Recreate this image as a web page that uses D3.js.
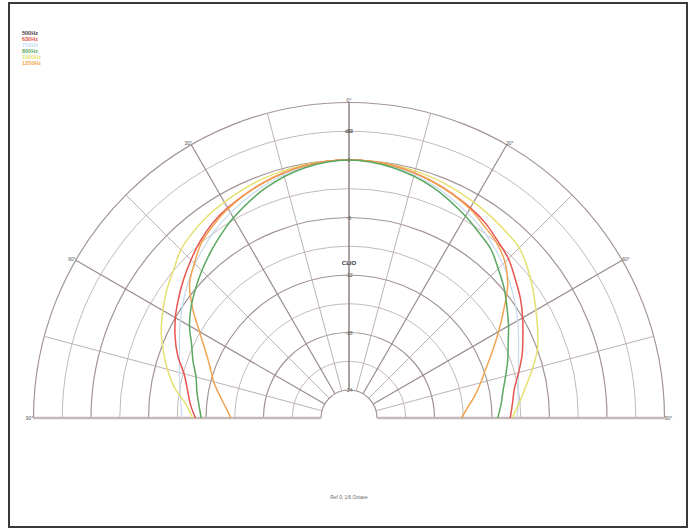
<!DOCTYPE html>
<html>
<head>
<meta charset="utf-8">
<script src="https://cdn.jsdelivr.net/npm/d3@7/dist/d3.min.js"></script>
<style>
  html, body { margin: 0; padding: 0; background: #fff; }
  svg { display: block; }
  text { font-family: "Liberation Sans", Arial, sans-serif; }
</style>
</head>
<body>
<svg id="chart" width="698" height="530"></svg>
<script>
// ---- data ----
const seriesNames = ["500Hz", "630Hz", "710Hz", "800Hz", "1000Hz", "1250Hz"];
const seriesColors = ["#4a3848", "#e85450", "#c6daf0", "#5aa860", "#e6e070", "#f2a452"];
const angles = [-90,-85,-80,-75,-70,-65,-60,-55,-50,-45,-40,-35,-30,-20,-10,0,10,20,30,35,40,45,50,55,60,65,70,75,80,85,90];
const s500  = [];
const s630  = [-10.9,-10.3,-9.8,-9.1,-7.9,-6.9,-6.0,-5.2,-4.4,-3.6,-2.8,-2.1,-1.6,-0.8,-0.2,0,-0.2,-0.8,-1.6,-2.1,-2.8,-3.4,-4.3,-5.1,-6.0,-6.9,-7.7,-8.6,-9.4,-9.8,-10.1];
const s710  = [-9.5,-9.3,-9.0,-8.6,-8.1,-7.4,-6.6,-5.8,-5.0,-4.2,-3.5,-2.8,-2.2,-1.1,-0.3,0,-0.3,-1.1,-2.2,-2.8,-3.5,-4.2,-5.0,-5.8,-6.6,-7.4,-8.1,-8.6,-9.0,-9.2,-9.4];
const s800  = [-11.5,-11.2,-10.8,-10.4,-9.6,-8.8,-7.7,-6.8,-6.0,-5.2,-4.4,-3.6,-2.8,-1.4,-0.4,0,-0.4,-1.3,-2.6,-3.3,-3.9,-4.9,-5.8,-6.8,-7.7,-8.6,-9.3,-10.0,-10.6,-11.0,-11.4];
const s1000 = [-10.6,-9.8,-8.4,-7.3,-6.3,-5.3,-4.5,-3.7,-3.0,-2.1,-1.6,-1.2,-0.9,-0.4,-0.1,0,-0.1,-0.4,-0.9,-1.2,-1.5,-1.8,-2.6,-3.5,-4.4,-5.2,-6.0,-7.1,-8.2,-9.1,-9.9];
const s1250 = [-14.6,-14.0,-13.2,-12.3,-11.5,-10.4,-8.9,-7.0,-5.2,-4.1,-3.0,-2.3,-1.7,-0.8,-0.2,0,-0.2,-0.8,-1.7,-2.4,-3.0,-3.9,-5.3,-7.2,-8.9,-10.4,-11.7,-12.7,-13.6,-14.5,-15.2];
const seriesValues = [s500, s630, s710, s800, s1000, s1250];
const drawOrder = [2, 4, 1, 5, 3, 0];
const ringValues = [-24,-21,-18,-15,-12,-9,-6,-3,0,3,6];
const ringLabels = [{v:-24,t:"-24"},{v:-18,t:"-18"},{v:-12,t:"-12"},{v:-6,t:"-6"},{v:0,t:"0"},{v:3,t:"dB"}];
const spokeAngles = [-90,-75,-60,-45,-30,-15,0,15,30,45,60,75,90];
const angleLabels = [{a:-90,t:"90°"},{a:-60,t:"60°"},{a:-30,t:"30°"},{a:0,t:"0°"},{a:30,t:"30°"},{a:60,t:"60°"},{a:90,t:"90°"}];
const footerText = "Ref 0;   1/6 Octave";
const brandText = "CLIO";

// ---- layout ----
const svg = d3.select("#chart");
const cx = 349, cy = 418;
const rScale = d3.scaleLinear().domain([-24, 6]).range([28, 315.5]);
const rad = a => a * Math.PI / 180;

svg.append("rect").attr("x", 9).attr("y", 3).attr("width", 678).attr("height", 524)
  .attr("fill", "#fff").attr("stroke", "#3a3a3a").attr("stroke-width", 2);

const g = svg.append("g").attr("transform", `translate(${cx},${cy})`);

// rings
ringValues.forEach(v => {
  const p = d3.path();
  p.arc(0, 0, rScale(v), -Math.PI, 0);
  const major = (v % 6 === 0);
  g.append("path").attr("d", p.toString()).attr("fill", "none")
    .attr("stroke", major ? "#a39494" : "#bdb1b1")
    .attr("stroke-width", major ? 1.2 : 0.9);
});

// spokes
spokeAngles.forEach(a => {
  const r0 = rScale(-24), r1 = rScale(6);
  const s = Math.sin(rad(a)), c = Math.cos(rad(a));
  let col = (a % 30 === 0) ? "#9a8b8b" : "#b6aaaa";
  let w = (a % 30 === 0) ? 1.2 : 0.9;
  if (a === 0) { col = "#8f8080"; w = 1.5; }
  if (Math.abs(a) === 90) { col = "#c4b8b8"; w = 2.4; }
  g.append("line").attr("x1", r0 * s).attr("y1", -r0 * c).attr("x2", r1 * s).attr("y2", -r1 * c)
    .attr("stroke", col).attr("stroke-width", w);
});

// curves
const line = d3.lineRadial()
  .angle((d, i) => rad(angles[i]))
  .radius(d => rScale(d))
  .curve(d3.curveCatmullRom);

drawOrder.forEach(k => {
  const vals = seriesValues[k];
  if (!vals.length) return;
  g.append("path").attr("d", line(vals)).attr("fill", "none")
    .attr("stroke", seriesColors[k]).attr("stroke-width", k === 2 ? 1.2 : 1.5);
});

// ring labels along vertical axis
ringLabels.forEach(d => {
  g.append("text").attr("x", 0).attr("y", -rScale(d.v) + 2)
    .attr("text-anchor", "middle").attr("font-size", d.t === "dB" ? 6 : 5)
    .attr("font-weight", d.t === "dB" ? "bold" : "normal")
    .attr("fill", "#555").text(d.t);
});

// angle labels
angleLabels.forEach(d => {
  const rr = rScale(6) + 2;
  g.append("text").attr("x", rr * Math.sin(rad(d.a)) - (d.a < 0 ? 2 : d.a > 0 ? -2 : 0))
    .attr("y", -rr * Math.cos(rad(d.a)) + 1.5)
    .attr("text-anchor", "middle").attr("font-size", 5).attr("fill", "#555").text(d.t);
});

g.append("text").attr("x", 0).attr("y", -rScale(-12) - 10).attr("text-anchor", "middle")
  .attr("font-size", 6).attr("font-weight", "bold").attr("fill", "#333").text(brandText);

// legend
seriesNames.forEach((n, i) => {
  svg.append("text").attr("x", 22).attr("y", 35 + i * 6)
    .attr("font-size", 5.5).attr("font-weight", "bold").attr("fill", seriesColors[i]).text(n);
});

svg.append("text").attr("x", 349).attr("y", 499).attr("text-anchor", "middle")
  .attr("font-size", 4.8).attr("fill", "#666").text(footerText);
</script>
</body>
</html>
